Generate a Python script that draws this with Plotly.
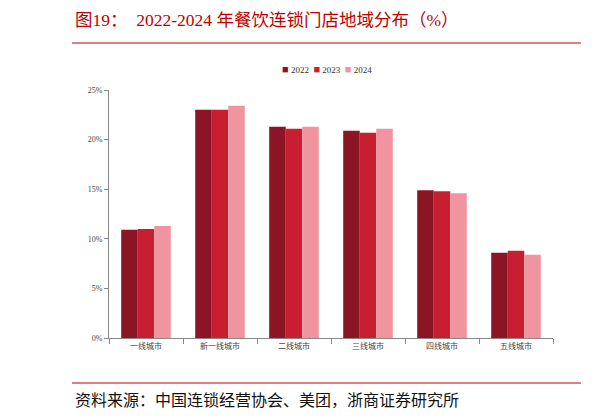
import plotly.graph_objects as go

# 城市等级与各年份门店占比（%）
cities = ['一线城市', '新一线城市', '二线城市', '三线城市', '四线城市', '五线城市']
share_2022 = [10.9, 23.0, 21.3, 20.9, 14.9, 8.6]
share_2023 = [11.0, 23.0, 21.1, 20.7, 14.8, 8.8]
share_2024 = [11.3, 23.4, 21.3, 21.1, 14.6, 8.4]
years = ['2022', '2023', '2024']
colors = ['#8B1425', '#C81E32', '#F0959F']

serif = 'Times New Roman, Liberation Serif, Noto Sans CJK SC, serif'
red = '#C00000'

fig = go.Figure()
for yr, vals, c in zip(years, [share_2022, share_2023, share_2024], colors):
    fig.add_trace(go.Bar(
        x=cities, y=vals, name=yr,
        marker=dict(color=c, line=dict(width=0)),
    ))

# 手工图例（紧凑排列）
legend_txt = '  '.join(
    f'<span style="color:{c};font-size:11px">■</span> {yr}' for yr, c in zip(years, colors)
)

fig.update_layout(
    width=614, height=420,
    margin=dict(l=101, r=69, t=82, b=90),
    paper_bgcolor='white', plot_bgcolor='white',
    barmode='group', bargap=0.33, bargroupgap=0,
    showlegend=False,
    font=dict(family=serif, size=8, color='#444444'),
    xaxis=dict(
        showline=True, linecolor='#888888', linewidth=1,
        ticks='outside', tickson='boundaries', ticklen=5, tickcolor='#888888',
        tickfont=dict(size=8, family='Noto Sans CJK SC', color='#444444'),
    ),
    yaxis=dict(
        range=[0, 25], dtick=5, ticksuffix='%',
        showline=True, linecolor='#888888', linewidth=1,
        ticks='outside', ticklen=4, tickcolor='#888888',
        showgrid=False, zeroline=False,
        tickfont=dict(size=8, color='#444444'),
    ),
    shapes=[
        dict(type='line', xref='paper', yref='paper', x0=-0.0833, x1=1.0631, y0=1.1895, y1=1.1895,
             line=dict(color=red, width=1.2)),
        dict(type='line', xref='paper', yref='paper', x0=-0.0833, x1=1.0631, y0=-0.1815, y1=-0.1815,
             line=dict(color=red, width=1.2)),
        dict(type='line', xref='paper', yref='paper', x0=1.128, x1=1.14, y0=1.1895, y1=1.1895,
             line=dict(color=red, width=1.2)),
        dict(type='line', xref='paper', yref='paper', x0=1.128, x1=1.14, y0=-0.1815, y1=-0.1815,
             line=dict(color=red, width=1.2)),
    ],
    annotations=[
        dict(text='图19：  2022-2024 年餐饮连锁门店地域分布（%）', xref='paper', yref='paper',
             x=-0.0811, y=1.282, xanchor='left', yanchor='middle', showarrow=False,
             font=dict(size=17.5, color=red, family=serif)),
        dict(text=legend_txt, xref='paper', yref='paper',
             x=0.49, y=1.0835, xanchor='center', yanchor='middle', showarrow=False,
             font=dict(size=9, color='#333333', family=serif)),
        dict(text='资料来源：中国连锁经营协会、美团，浙商证券研究所', xref='paper', yref='paper',
             x=-0.0811, y=-0.25, xanchor='left', yanchor='middle', showarrow=False,
             font=dict(size=16, color='#111111', family=serif)),
    ],
)

fig.write_html('out.html')
